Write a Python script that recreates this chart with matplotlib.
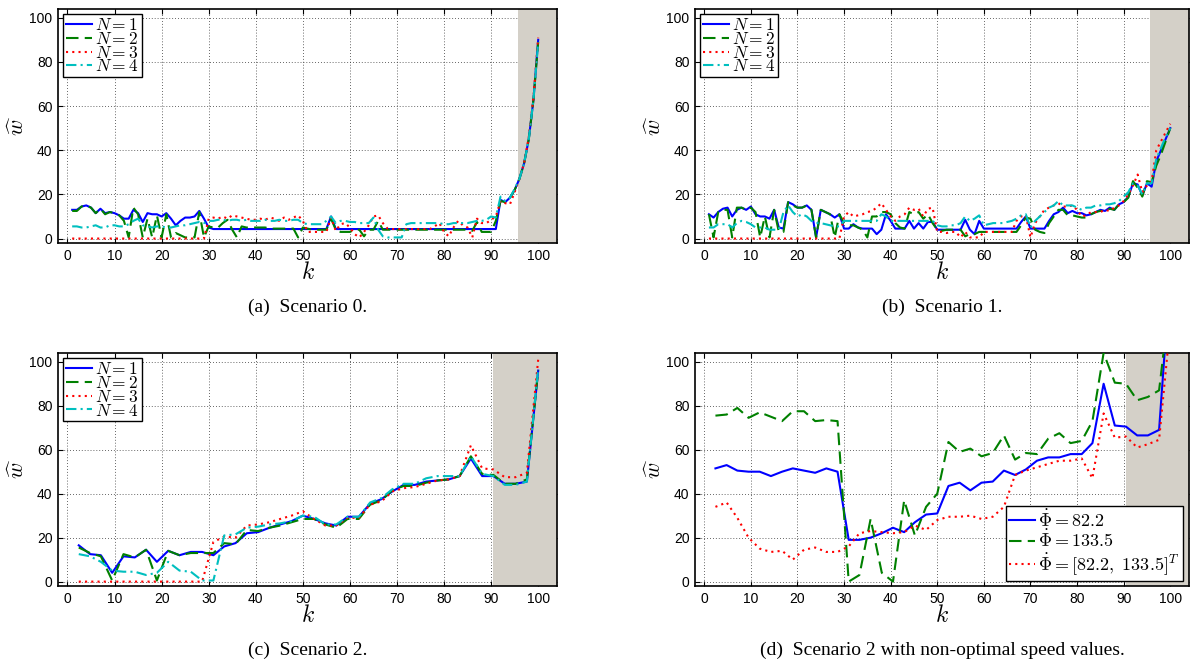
import numpy as np
import matplotlib
matplotlib.use('Agg')
import matplotlib.pyplot as plt

plt.rcParams['font.family'] = ['Liberation Sans', 'DejaVu Sans']
plt.rcParams['mathtext.fontset'] = 'cm'

# Eje k de los escenarios 0 y 1 (paso unitario)
k_ab = np.arange(1, 101)
# Eje k de los escenarios 2 (muestreo mas grueso)
k_cd = [2.4, 4.8, 7.1, 9.5, 11.9, 14.3, 16.7, 19.0, 21.4, 23.8, 26.2, 28.6, 31.0, 33.3,
        35.7, 38.1, 40.5, 42.9, 45.2, 47.6, 50.0, 52.4, 54.8, 57.1, 59.5, 61.9, 64.3, 66.7,
        69.0, 71.4, 73.8, 76.2, 78.6, 81.0, 83.3, 85.7, 88.1, 90.5, 92.9, 95.2, 97.6, 100.0]

# (a) Escenario 0
a_n1 = [13, 13, 14.5, 15, 14, 11.5, 13.5, 11.5, 12, 11.5, 10.5, 9, 9, 13, 11.5, 7.5, 11.5, 11, 11, 10,
        11.5, 9, 6, 8, 9.5, 9.5, 10, 12.5, 9, 5] + [4.3] * 25 + [10] + [4.3] * 35 + \
       [17.5, 16.5, 18.5, 22, 27, 34, 45, 63, 90]
a_n2 = [12.5, 12.5, 14.5, 15, 14, 11.5, 13.5, 11, 12, 11.5, 10.5,
        8, 0.5, 14, 11, 0.5, 9, 0.5, 10.5, 0.5, 11, 0.5, 2.5, 1.5, 0.5, 0.5, 0.5, 12, 0.5, 5.5,
        5, 5, 7, 8.5, 4, 0.5, 5.5, 5, 5, 5, 5, 5, 4.5, 4.5, 4.5, 4.5, 4.5, 4.5, 0.5, 5,
        4.5, 4, 4, 4, 4, 9, 4, 3, 3, 3, 4, 4, 1, 4, 4, 8, 4] + [4] * 18 + \
       [3.5, 7.5, 3, 3, 3, 8, 17, 16.5, 18.5, 22, 27, 34, 45, 63, 89]
a_n3 = [0] * 29 + [9, 9.5, 9, 10, 9, 10.5, 10, 9.5, 9, 8.5, 8.5, 9, 8.5, 9.5, 9, 8, 9.5, 8.5, 9.5,
        10.5, 8, 3, 3, 3, 3, 3, 9.5, 3.5, 6.5, 7, 5, 2, 0.5, 3, 6, 10, 10.5, 7, 4.5] + [4.3] * 9 + \
       [5.5, 7, 3, 1, 5, 8, 6, 5, 0.5, 9, 7, 7, 8.5, 10, 17, 16, 15.5, 21, 27, 34, 46, 64, 91]
a_n4 = [5.5, 5.5, 5, 5, 5.5, 6, 5, 5, 6, 6, 5.5, 5.5, 6.5, 8, 9, 6, 5.5, 5, 5.5, 5.5,
        5, 5, 5.5, 6, 6, 6.5, 7, 7.5, 7, 8, 8, 8.5, 8.5, 8, 8.5, 8.5, 8, 8.5, 8, 8,
        8, 8.5, 8, 8, 8.5, 8, 8, 8.5, 8.5, 7, 6.5, 6.5, 6.5, 6.5, 8, 10, 7, 8, 8, 7.5,
        7.5, 7, 7, 7, 9.5, 4, 1, 0.5, 0.5, 0.5, 0.5, 6.5, 7, 7, 7, 7, 7, 7, 7, 6.5,
        6.5, 7, 7, 7, 7, 7.5, 8, 8, 8.5, 10, 9.5, 19, 17, 18.5, 22.5, 27, 34, 45, 63, 89]

# (b) Escenario 1
b_n1 = [11, 9.5, 12, 13.5, 14, 10, 13, 14, 13, 14.5, 11, 10, 10, 9, 13, 5, 4.5, 16.5, 15.5, 14,
        14, 15, 13, 0.5, 13, 12, 11, 9.5, 11, 4.5, 4.5, 6.5, 5, 4.5, 4.5, 4.5, 2, 4, 11, 8,
        4.5, 4.5, 4.5, 8, 4.5, 7, 4.5, 7.5, 7.5, 4, 4, 4, 4, 4, 4, 8.5, 4, 2, 8, 4.5,
        4.5, 4.5, 4.5, 4.5, 4.5, 4.5, 4.5, 7.5, 10, 4.5, 4.5, 4.5, 4.5, 8, 11, 12, 14, 11.5, 12.5, 11.5,
        11.5, 10.5, 11, 12, 13, 12.5, 14, 13, 15.5, 16.5, 19, 25, 24.5, 19.5, 25, 23.5, 35, 40, 45, 50]
b_n2 = [11, 0.5, 12, 13, 13, 0.5, 14, 14, 13, 14, 12, 0.5, 10, 0.5, 13, 3, 3, 16.5, 15, 14,
        14, 15, 13, 0.5, 13, 12, 11, 0.5, 11, 7, 6, 6, 5, 4, 0.5, 10, 10, 12, 12, 11,
        7, 5, 4.5, 12, 11, 12, 9, 11, 7, 4, 3.5, 4, 4, 4, 4, 1, 2, 2, 3, 3,
        3, 3, 3, 3, 3, 3, 3, 6, 9.5, 9, 4, 3, 2.5, 7, 10, 13, 13, 10.5, 10.5, 10,
        9.5, 9.5, 11, 12, 12.5, 12.5, 13.5, 13, 15.5, 16.5, 18.5, 26, 23, 19, 26, 25.5, 33, 38, 44, 50]
b_n3 = [0] * 29 + [10, 12, 10, 10.5, 11, 12, 12.5, 14, 16, 13, 10, 8, 10, 11, 14, 13, 13.5, 10, 13.5,
        14, 3, 3, 2.5, 3, 3, 0.5, 3, 0.5, 0.5, 0.5, 3, 3, 3, 3, 3, 3, 3, 8, 10, 10.5, 0.5,
        7, 10, 13, 14, 15, 16, 14.5, 14.5, 15, 13, 10, 10.5, 12, 12, 12, 13, 12.5, 14, 15, 17,
        20, 24, 29, 21, 24, 26, 40, 44, 48, 52]
b_n4 = [5, 5, 6.5, 6.5, 6.5, 5, 7, 8, 7.5, 6.5, 5, 5, 5, 4, 4, 4, 12, 15, 12, 10,
        11, 10, 8, 7, 7, 6.5, 6, 5.5, 5.5, 8, 8, 8, 8, 8, 8, 8, 8, 11, 10, 8,
        8, 8, 8, 8, 8, 8, 8, 8, 8, 6, 5.5, 5.5, 6, 6, 7, 10, 8, 9, 10.5, 6,
        6.5, 7, 7, 7, 7.5, 8, 9, 10.5, 11, 5, 8, 10, 12, 14, 15, 17, 15, 15, 15, 14,
        13, 14, 14, 15, 15, 15.5, 15.5, 16, 17, 19, 21, 25, 24, 20, 25, 25, 36, 41, 46, 50]

# (c) Escenario 2
c_n1 = [16.5, 12.5, 12, 4, 11.5, 11, 14.5, 9, 14, 12, 13.5, 13.5, 12, 16, 17.5, 22, 22.5, 24.5, 26, 27.5,
        30, 28.5, 26.5, 25.5, 29.5, 29.5, 35.5, 37.5, 41, 44, 44, 45.5, 46, 46.5, 48, 56, 48, 48, 44.5, 44.5,
        45.5, 96]
c_n2 = [15.5, 13, 11.5, 0.5, 12.5, 11, 14.5, 0.5, 14, 12, 13, 13, 13, 17.5, 17, 23.5, 23, 24.5, 25.5, 27,
        28.5, 28.5, 26, 24.5, 28.5, 28.5, 35, 37, 41.5, 43.5, 43.5, 45, 46, 46.5, 48, 57, 49, 48.5, 44.5, 44.5,
        46.5, 96]
c_n3 = [0, 0, 0, 0, 0, 0, 0, 0, 0, 0, 0, 0, 18, 20.5, 20, 25.5, 26, 27, 28.5, 30,
        32, 28.5, 25.5, 25.5, 29, 29, 35, 36.5, 41, 42.5, 43, 44.5, 46, 46.5, 48, 62, 51.5, 51, 47.5, 47.5,
        49.5, 101]
c_n4 = [12.5, 11.5, 9, 5, 4.5, 4.5, 3, 4, 9, 5, 4.5, 0.5, 0.5, 21, 21.5, 24.5, 25, 26, 26.5, 27.5,
        30, 29.5, 26, 26, 29.5, 29.5, 36, 38, 42, 44.5, 44.5, 47, 48, 48, 48, 57, 49, 48, 44, 44,
        45.5, 97]

# (d) Escenario 2 con velocidades no optimas
d_p1 = [51.5, 53, 50.5, 50, 50, 48, 50, 51.5, 50.5, 49.5, 51.5, 50, 19, 19, 20, 22, 24.5, 22.5, 27, 30.5,
        31, 43.5, 45, 41.5, 45, 45.5, 50.5, 48.5, 51, 55, 56.5, 56.5, 58, 58, 63, 90, 71, 70.5, 66.5, 66.5,
        69, 140]
d_p2 = [75.5, 76, 79, 74.5, 77, 75, 73, 77.5, 77.5, 73, 73.5, 73, 0, 3, 28.5, 4, 0, 37, 21, 34,
        40, 63.5, 59, 60.5, 57, 58.5, 66.5, 55.5, 58.5, 58, 65, 67.5, 63, 64, 73, 104, 90.5, 90, 82.5, 84,
        87, 130]
d_p12 = [34, 36, 29, 20, 15, 13.5, 14, 10, 14.5, 15.5, 13.5, 13.5, 16, 22, 23, 22.5, 22, 22.5, 25.5, 23.5,
         28, 29.5, 29.5, 30, 28.5, 29.5, 34, 48.5, 50.5, 52, 53.5, 55, 55, 56, 47, 76.5, 65.5, 66, 61, 62.5,
         64.5, 117]

etiquetas_n = [r'$N=1$', r'$N=2$', r'$N=3$', r'$N=4$']
etiquetas_phi = [r'$\dot{\Phi}=82.2$', r'$\dot{\Phi}=133.5$', r'$\dot{\Phi}=[82.2,\ 133.5]^T$']
titulos = ['(a)  Scenario 0.', '(b)  Scenario 1.', '(c)  Scenario 2.',
           '(d)  Scenario 2 with non-optimal speed values.']
inicio_sombra = [95.7, 95.7, 90.5, 90.5]

colores = ['#0000ff', '#008000', '#ff0000', '#00bfbf']
estilos = ['-', (0, (6, 3)), (0, (1, 2)), (0, (5, 2, 1, 2))]

fig = plt.figure(figsize=(11.92, 6.62), dpi=100)
posiciones = [[0.0487, 0.633, 0.4186, 0.3535],
              [0.583, 0.633, 0.4144, 0.3535],
              [0.0487, 0.1148, 0.4186, 0.352],
              [0.583, 0.1148, 0.4144, 0.352]]
axes = [fig.add_axes(p) for p in posiciones]

series = [
    (k_ab, [a_n1, a_n2, a_n3, a_n4], etiquetas_n),
    (k_ab, [b_n1, b_n2, b_n3, b_n4], etiquetas_n),
    (k_cd, [c_n1, c_n2, c_n3, c_n4], etiquetas_n),
    (k_cd, [d_p1, d_p2, d_p12], etiquetas_phi),
]

for i, ax in enumerate(axes):
    xs, ys, labs = series[i]
    ax.set_axisbelow(True)
    ax.axvspan(inicio_sombra[i], 104, color='#d4d0c8', lw=0, zorder=1)
    for j, y in enumerate(ys):
        ax.plot(xs, y, color=colores[j], linestyle=estilos[j], lw=1.5, label=labs[j], zorder=3)
    ax.set_xlim(-2, 104)
    ax.set_ylim(-2, 104)
    ax.set_xticks(range(0, 101, 10))
    ax.set_yticks(range(0, 101, 20))
    ax.grid(True, color='#333333', linestyle=(0, (1, 2.5)), lw=0.6)
    ax.tick_params(direction='in', top=True, right=True, length=3.5, width=0.8,
                   labelsize=10, pad=4)
    for s in ax.spines.values():
        s.set_linewidth(1.2)
    ax.set_xlabel(r'$k$', fontsize=17)
    ax.xaxis.set_label_coords(0.5, -0.08)
    ax.set_ylabel(r'$\widehat{w}$', fontsize=16)
    ax.yaxis.set_label_coords(-0.058, 0.5)
    if i < 3:
        leg = ax.legend(loc='upper left', fontsize=12.5, labelspacing=-0.12, handlelength=1.5,
                        handletextpad=0.2, borderpad=0.15, borderaxespad=0.3, fancybox=False,
                        framealpha=1, edgecolor='k')
    else:
        leg = ax.legend(loc='lower right', fontsize=13, labelspacing=-0.02, handlelength=1.4,
                        handletextpad=0.2, borderpad=0.2, borderaxespad=0.3, fancybox=False,
                        framealpha=1, edgecolor='k')
    leg.get_frame().set_linewidth(1.0)
    cx = posiciones[i][0] + posiciones[i][2] / 2
    cy = 0.535 if i < 2 else 0.018
    fig.text(cx, cy, titulos[i], ha='center', va='center', fontsize=14,
             family=['Liberation Serif', 'DejaVu Serif'])

fig.savefig('out.png', dpi=100)
